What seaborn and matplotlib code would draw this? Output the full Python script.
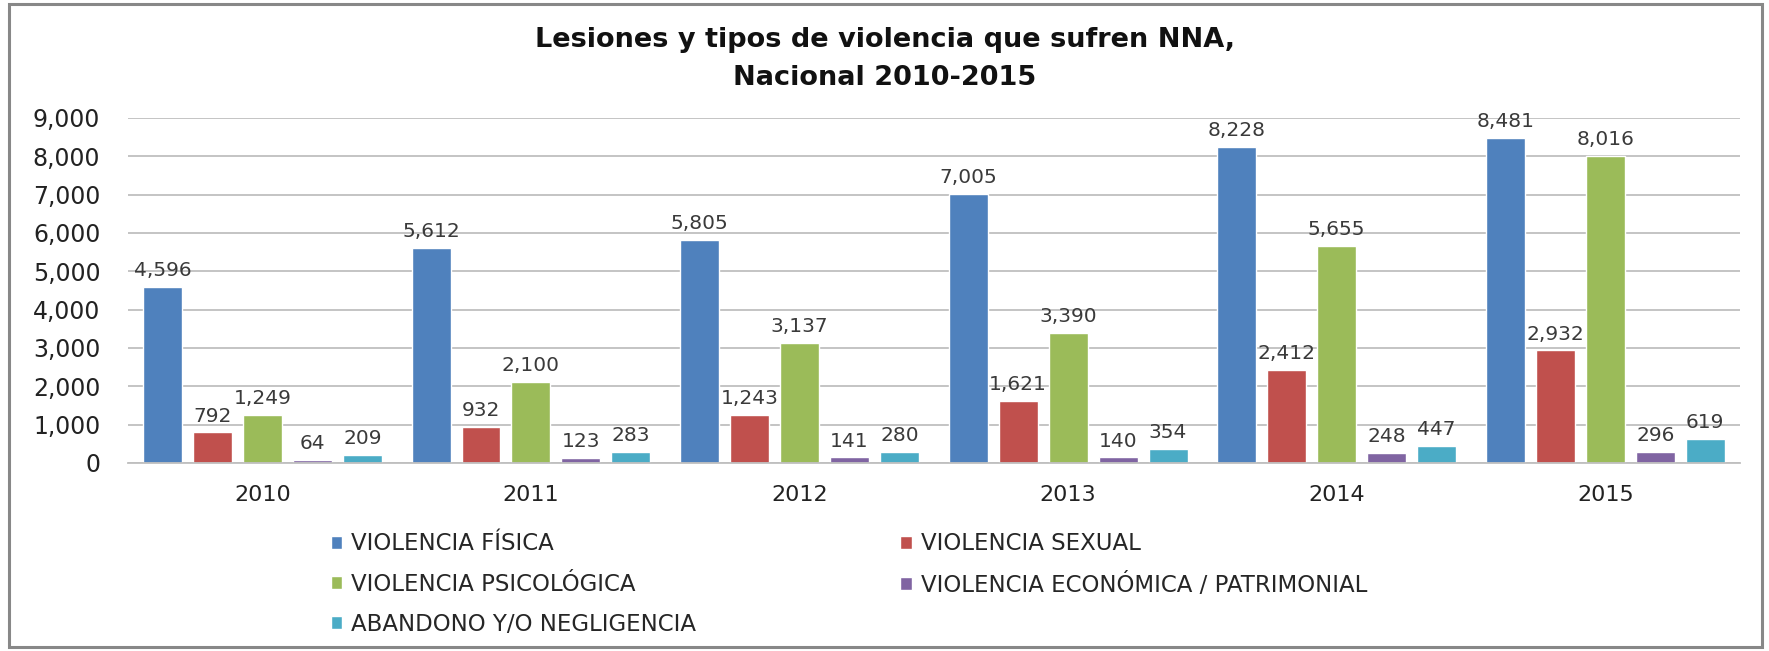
import pandas as pd
import matplotlib.pyplot as plt
import seaborn as sns
from matplotlib.patches import Rectangle

# Data
years = ['2010', '2011', '2012', '2013', '2014', '2015']
categories = ['VIOLENCIA FÍSICA', 'VIOLENCIA SEXUAL', 'VIOLENCIA PSICOLÓGICA',
              'VIOLENCIA ECONÓMICA / PATRIMONIAL', 'ABANDONO Y/O NEGLIGENCIA']
fisica = [4596, 5612, 5805, 7005, 8228, 8481]
sexual = [792, 932, 1243, 1621, 2412, 2932]
psicologica = [1249, 2100, 3137, 3390, 5655, 8016]
economica = [64, 123, 141, 140, 248, 296]
abandono = [209, 283, 280, 354, 447, 619]

colors = ['#4F81BD', '#C0504D', '#9BBB59', '#8064A2', '#4BACC6']

series = [fisica, sexual, psicologica, economica, abandono]
rows = []
for cat, vals in zip(categories, series):
    for y, v in zip(years, vals):
        rows.append({'year': y, 'tipo': cat, 'valor': v})
df = pd.DataFrame(rows)

sns.set_style('white')
plt.rcParams['font.family'] = ['DejaVu Sans']

fig = plt.figure(figsize=(17.69, 6.51), dpi=100)
ax = fig.add_axes([0.0724, 0.289, 0.911, 0.530])

sns.barplot(data=df, x='year', y='valor', hue='tipo', hue_order=categories,
            palette=colors, width=0.93, gap=0.22, saturation=1, ax=ax,
            errorbar=None, legend=True)

for cont in ax.containers:
    ax.bar_label(cont, labels=[f'{int(v):,}' for v in cont.datavalues],
                 padding=5, fontsize=14.5, color='#3a3a3a')

ax.set_xlim(-0.5, 5.5)
ax.set_ylim(0, 9000)
ax.set_yticks(range(0, 9001, 1000))
ax.set_yticklabels([f'{v:,}' for v in range(0, 9001, 1000)])
ax.yaxis.grid(True, color='#BFBFBF', linewidth=1.3)
ax.set_axisbelow(True)
ax.set_xlabel('')
ax.set_ylabel('')
for s in ['top', 'right', 'left']:
    ax.spines[s].set_visible(False)
ax.spines['bottom'].set_color('#BFBFBF')
ax.spines['bottom'].set_linewidth(1.3)
ax.tick_params(axis='y', labelsize=17, length=0, pad=20, colors='#222222')
ax.tick_params(axis='x', labelsize=16, length=0, pad=16, colors='#222222')

# legend in two columns, row-major order like the original
handles, labels = ax.get_legend_handles_labels()
order = [0, 2, 4, 1, 3]
ax.legend([handles[i] for i in order], [labels[i] for i in order],
          ncol=2, loc='upper left', bbox_to_anchor=(0.12, -0.175),
          frameon=False, fontsize=16.5, handlelength=0.5, handleheight=0.5,
          handletextpad=0.4, columnspacing=8.9, labelspacing=0.75,
          borderaxespad=0)

fig.suptitle('Lesiones y tipos de violencia que sufren NNA,\nNacional 2010-2015',
             fontsize=19.5, fontweight='bold', y=0.958, x=0.5, linespacing=1.6,
             color='#111111')

# grey frame around the chart
fig.patches.append(Rectangle((0.005, 0.006), 0.991, 0.988, transform=fig.transFigure,
                             fill=False, edgecolor='#888888', linewidth=2.2))

fig.savefig('out.png', dpi=100)
